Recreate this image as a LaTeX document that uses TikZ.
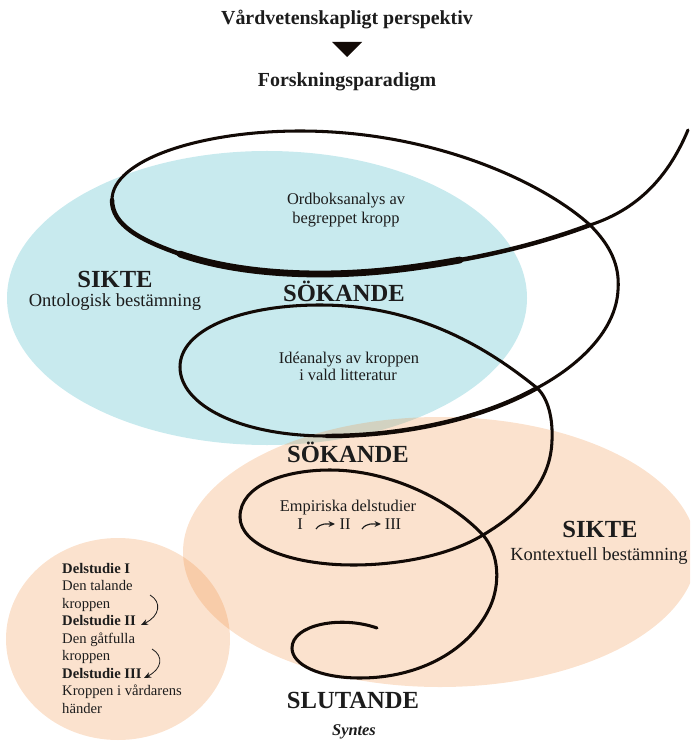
\documentclass[tikz,border=0pt]{standalone}
\usepackage{fontspec}
\setmainfont{Liberation Serif}
\usetikzlibrary{arrows.meta}
\definecolor{skyfill}{RGB}{200,234,238}
\definecolor{peach}{RGB}{240,140,60}
\definecolor{ink}{RGB}{18,10,6}
\definecolor{txt}{RGB}{28,28,28}
\begin{document}
\begin{tikzpicture}[x=0.03cm,y=-0.03cm,
  spiral/.style={draw=ink, line width=2.6pt, line cap=round, line join=round},
  lbl/.style={text=txt, inner sep=0pt, anchor=base},
  lleft/.style={text=txt, inner sep=0pt, anchor=base west},
  title/.style={font=\fontsize{17}{20}\selectfont\bfseries},
  big/.style={font=\fontsize{21}{24}\selectfont\bfseries},
  mid/.style={font=\fontsize{15.8}{18}\selectfont},
  small/.style={font=\fontsize{14}{17}\selectfont},
  circ/.style={font=\fontsize{12.5}{15}\selectfont},
  circb/.style={font=\fontsize{12.5}{15}\selectfont\bfseries},
  smallarr/.style={draw=txt, line width=1pt, -{Stealth[length=5.5pt,width=5pt]}},
  bendarr/.style={draw=txt, line width=0.7pt, -{Stealth[length=6pt,width=5pt]}}]
\useasboundingbox (0,0) rectangle (690,741);
\begin{scope}
\clip (0,0) rectangle (690,741);
\fill[skyfill] (267,298) ellipse [x radius=260, y radius=147];
\fill[peach, fill opacity=0.25] (440,552) ellipse [x radius=257, y radius=135];
\fill[peach, fill opacity=0.25] (118,639) ellipse [x radius=112, y radius=101];
\end{scope}

% header
\node[lbl, title] (persp) at (347,25) {Vårdvetenskapligt perspektiv};
\fill[ink] (332,42) -- (362,42) -- (347,57) -- cycle;
\node[lbl, title] (parad) at (347,87) {Forskningsparadigm};

% spiral key points
\coordinate (s0) at (688,130);
\coordinate (x1) at (590,225);
\coordinate (m1) at (460,260);
\coordinate (b1) at (320,274);
\coordinate (q1) at (180,254);
\coordinate (l1p) at (112,200);
\coordinate (t1) at (300,131);
\coordinate (r1) at (618,290);
\coordinate (x2) at (537,388);
\coordinate (b2) at (327,436);
\coordinate (l2p) at (180,367);
\coordinate (t2) at (320,305);
\coordinate (r2) at (552,440);
\coordinate (x3) at (483,535);
\coordinate (b3) at (353,565);
\coordinate (l3p) at (240,517);
\coordinate (t3) at (330,470);
\coordinate (r3) at (490,607);
\coordinate (b4) at (360,678);
\coordinate (l4p) at (292,648);
\coordinate (s1) at (377,628);

\draw[spiral] (s0) .. controls (665,185) and (630,212) .. (x1)
  .. controls (550,240) and (505,252) .. (m1)
  .. controls (415,268) and (370,274) .. (b1)
  .. controls (270,274) and (220,268) .. (q1)
  .. controls (140,240) and (112,225) .. (l1p)
  .. controls (112,160) and (200,131) .. (t1)
  .. controls (430,131) and (540,180) .. (x1)
  .. controls (610,245) and (620,265) .. (r1)
  .. controls (616,330) and (580,365) .. (x2)
  .. controls (480,420) and (400,436) .. (b2)
  .. controls (240,436) and (180,405) .. (l2p)
  .. controls (180,330) and (240,305) .. (t2)
  .. controls (420,305) and (490,350) .. (x2)
  .. controls (548,398) and (553,418) .. (r2)
  .. controls (551,480) and (525,510) .. (x3)
  .. controls (450,555) and (400,565) .. (b3)
  .. controls (290,565) and (240,545) .. (l3p)
  .. controls (240,485) and (285,470) .. (t3)
  .. controls (390,470) and (450,500) .. (x3)
  .. controls (500,555) and (500,585) .. (r3)
  .. controls (470,650) and (420,678) .. (b4)
  .. controls (320,678) and (292,665) .. (l4p)
  .. controls (292,625) and (340,615) .. (s1);
% thicker stretches
\draw[spiral, line width=3.8pt] (x1) .. controls (550,240) and (505,252) .. (m1)
  .. controls (415,268) and (370,274) .. (b1)
  .. controls (270,274) and (220,268) .. (q1)
  .. controls (140,240) and (112,225) .. (l1p);
\draw[spiral, line width=5.8pt] (m1) .. controls (415,268) and (370,274) .. (b1)
  .. controls (270,274) and (220,268) .. (q1);
\draw[spiral, line width=3.8pt] (x2) .. controls (480,420) and (400,436) .. (b2);

% labels
\node[lbl, big] (sikte1) at (115,287) {SIKTE};
\node[lbl, mid] (onto) at (115,306) {Ontologisk bestämning};
\node[lbl, big] (sok1) at (344,301) {SÖKANDE};
\node[lbl, small] (ord1) at (346,205) {Ordboksanalys av};
\node[lbl, small] (ord2) at (346,224) {begreppet kropp};
\node[lbl, small] (ide1) at (349,363) {Idéanalys av kroppen};
\node[lbl, small] (ide2) at (348,380) {i vald litteratur};
\node[lbl, big] (sok2) at (348,462) {SÖKANDE};
\node[lbl, small] (emp) at (348,511) {Empiriska delstudier};
\node[lbl, small] (nI) at (300,529) {I};
\node[lbl, small] (nII) at (345,529) {II};
\node[lbl, small] (nIII) at (393,529) {III};
\coordinate (a1s) at (316,529);
\coordinate (a1e) at (335,524);
\coordinate (a2s) at (362,529);
\coordinate (a2e) at (381,524);
\draw[smallarr] (a1s) to[out=55,in=180] (a1e);
\draw[smallarr] (a2s) to[out=55,in=180] (a2e);
\node[lbl, big] (sikte2) at (600,537) {SIKTE};
\node[lbl, mid] (kont) at (599,560) {Kontextuell bestämning};
\node[lbl, big] (slut) at (353,708) {SLUTANDE};
\node[lbl, font=\fontsize{14}{17}\selectfont\bfseries\itshape] (syn) at (354,735) {Syntes};

% small circle texts
\node[lleft, circb] (l1) at (62,573) {Delstudie I};
\node[lleft, circ] (l2) at (62,590.5) {Den talande};
\node[lleft, circ] (l3) at (62,608) {kroppen};
\node[lleft, circb] (l4) at (62,625.5) {Delstudie II};
\node[lleft, circ] (l5) at (62,643) {Den gåtfulla};
\node[lleft, circ] (l6) at (62,660.5) {kroppen};
\node[lleft, circb] (l7) at (62,678) {Delstudie III};
\node[lleft, circ] (l8) at (62,695.5) {Kroppen i vårdarens};
\node[lleft, circ] (l9) at (62,713) {händer};
\coordinate (c1s) at (150,595);
\coordinate (c1e) at (141,625);
\coordinate (c2s) at (152,649);
\coordinate (c2e) at (144,678);
\draw[bendarr] (c1s) .. controls (162,602) and (160,616) .. (c1e);
\draw[bendarr] (c2s) .. controls (164,656) and (162,669) .. (c2e);
\end{tikzpicture}
\end{document}
